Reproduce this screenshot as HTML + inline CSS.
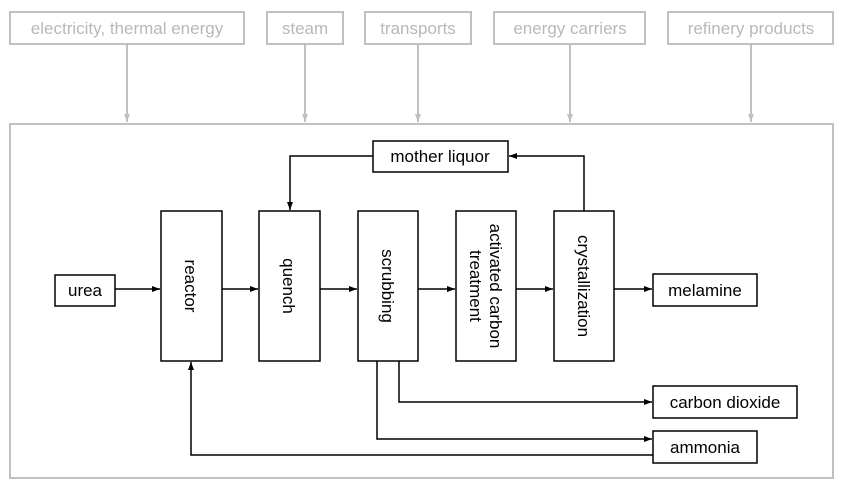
<!DOCTYPE html>
<html><head><style>body{margin:0;background:#fff}svg{display:block}text{font-family:"Liberation Sans",sans-serif;font-size:17px}</style></head><body>
<svg width="844" height="486" viewBox="0 0 844 486" xmlns="http://www.w3.org/2000/svg">
<defs>
<marker id="a" markerWidth="8" markerHeight="8" refX="8" refY="4" orient="auto" markerUnits="userSpaceOnUse"><path d="M0,1 L8,4 L0,7Z" fill="#000"/></marker>
<marker id="g" markerWidth="8" markerHeight="8" refX="8" refY="4" orient="auto" markerUnits="userSpaceOnUse"><path d="M0,1 L8,4 L0,7Z" fill="#c0c0c0"/></marker>
</defs>
<g fill="none" stroke="#c0c0c0" stroke-width="2">
<rect x="10" y="12" width="234" height="32"/><rect x="267" y="12" width="76" height="32"/><rect x="365" y="12" width="106" height="32"/><rect x="494" y="12" width="151" height="32"/><rect x="668" y="12" width="165" height="32"/>
<rect x="10" y="124" width="823" height="354"/>
</g>
<g fill="none" stroke="#c0c0c0" stroke-width="2" marker-end="url(#g)">
<path d="M127,44V122"/><path d="M305,44V122"/><path d="M418,44V122"/><path d="M570,44V122"/><path d="M751,44V122"/>
</g>
<g fill="#b8b8b8" text-anchor="middle">
<text x="127" y="34">electricity, thermal energy</text><text x="305" y="34">steam</text><text x="418" y="34">transports</text><text x="570" y="34">energy carriers</text><text x="751" y="34">refinery products</text>
</g>
<g fill="none" stroke="#000" stroke-width="1.5">
<rect x="161" y="211" width="61" height="150"/><rect x="259" y="211" width="61" height="150"/><rect x="358" y="211" width="60" height="150"/><rect x="456" y="211" width="60" height="150"/><rect x="554" y="211" width="60" height="150"/>
<rect x="55" y="275" width="60" height="31"/><rect x="653" y="274" width="104" height="32"/><rect x="653" y="386" width="144" height="32"/><rect x="653" y="431" width="104" height="32"/><rect x="373" y="141" width="135" height="31"/>
</g>
<g fill="none" stroke="#000" stroke-width="1.5" marker-end="url(#a)">
<path d="M115,289H160"/><path d="M222,289H258"/><path d="M320,289H357"/><path d="M418,289H455"/><path d="M516,289H553"/><path d="M614,289H652"/>
<path d="M584,211V156H509"/><path d="M373,156H290V210"/>
<path d="M399,361V402H652"/><path d="M377,361V439H652"/><path d="M653,455H191V362"/>
</g>
<g fill="#000" text-anchor="middle">
<text x="85" y="296">urea</text><text x="705" y="296">melamine</text><text x="725" y="408">carbon dioxide</text><text x="705" y="453">ammonia</text><text x="440" y="162">mother liquor</text>
<text transform="translate(185,286) rotate(90)">reactor</text>
<text transform="translate(283,286) rotate(90)">quench</text>
<text transform="translate(382,286) rotate(90)">scrubbing</text>
<text transform="translate(490,286) rotate(90)">activated carbon</text>
<text transform="translate(470,286) rotate(90)">treatment</text>
<text transform="translate(578,286) rotate(90)">crystallization</text>
</g>
</svg>
</body></html>
